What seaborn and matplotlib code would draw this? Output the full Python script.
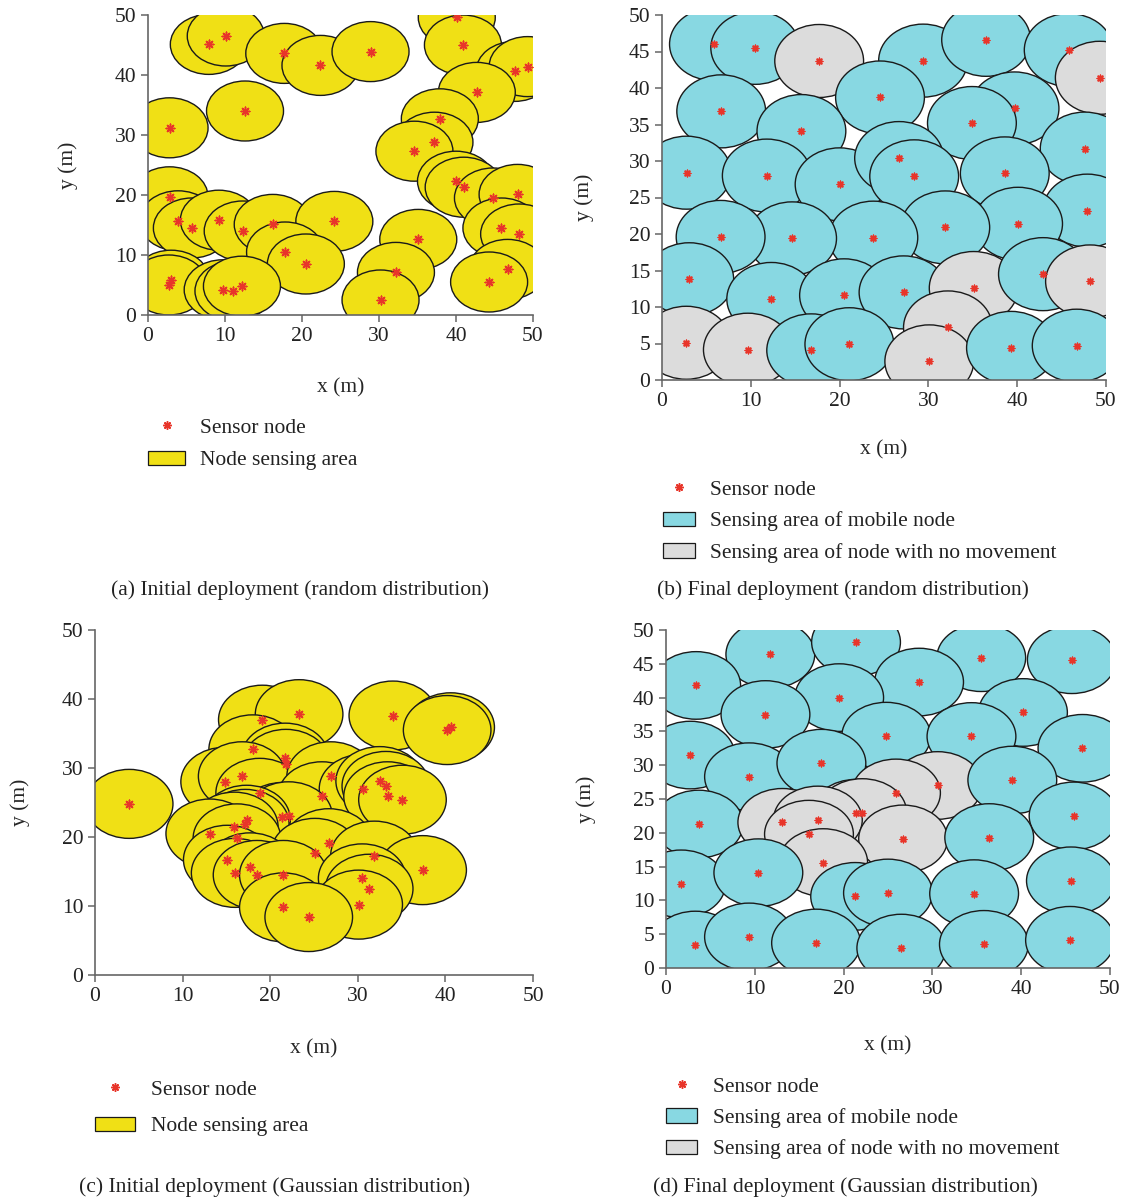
import matplotlib
matplotlib.use("Agg")
import matplotlib.pyplot as plt
from matplotlib.patches import Circle, Patch
from matplotlib.lines import Line2D
import seaborn as sns
import pandas as pd

# ---------------------------------------------------------------
# data (node centres, metres)
# ---------------------------------------------------------------
# (a) initial deployment, random
a_x = [7.9, 10.1, 17.7, 22.4, 28.9, 40.1, 40.9, 47.6, 49.3, 42.7, 12.6, 2.8, 37.9, 37.2,
       34.6, 40.0, 41.0, 44.8, 48.0, 2.8, 3.9, 5.7, 9.2, 12.3, 16.2, 24.2, 17.8, 20.5,
       35.1, 45.9, 48.2, 32.2, 46.7, 44.3, 30.2, 3.0, 2.7, 9.7, 11.1, 12.2]
a_y = [45.1, 46.5, 43.6, 41.6, 43.9, 49.6, 45.0, 40.6, 41.4, 37.1, 34.0, 31.2, 32.7, 28.8,
       27.3, 22.3, 21.3, 19.5, 20.1, 19.7, 15.7, 14.5, 15.8, 14.0, 15.1, 15.6, 10.5, 8.5,
       12.6, 14.5, 13.5, 7.1, 7.6, 5.5, 2.5, 5.8, 5.0, 4.2, 4.0, 4.8]

# (b) final deployment, random  (1 = node moved, 0 = no movement)
b_x = [5.85, 10.5, 17.7, 29.4, 36.5, 45.8, 49.3, 24.55, 6.67, 39.7, 34.9, 15.7, 47.6, 2.77,
       11.8, 20.0, 26.7, 28.4, 38.6, 47.9, 40.1, 31.9, 23.8, 14.65, 6.6, 3.07, 12.3, 20.5,
       27.2, 35.1, 42.9, 48.2, 2.74, 9.67, 16.8, 21.1, 32.2, 30.1, 39.3, 46.7]
b_y = [46.0, 45.5, 43.7, 43.75, 46.6, 45.2, 41.4, 38.7, 36.8, 37.2, 35.2, 34.1, 31.7, 28.4,
       28.0, 26.8, 30.4, 27.9, 28.3, 23.2, 21.4, 20.9, 19.5, 19.4, 19.6, 13.8, 11.1, 11.6,
       12.0, 12.6, 14.5, 13.5, 5.1, 4.15, 4.06, 4.9, 7.2, 2.55, 4.4, 4.7]
b_moved = [1, 1, 0, 1, 1, 1, 0, 1, 1, 1, 1, 1, 1, 1, 1, 1, 1, 1, 1, 1,
           1, 1, 1, 1, 1, 1, 1, 1, 1, 0, 1, 0, 0, 0, 1, 1, 0, 0, 1, 1]

# (c) initial deployment, gaussian
c_x = [3.9, 19.1, 23.3, 34.0, 40.6, 40.2, 18.0, 21.7, 21.8, 14.8, 16.8, 18.8, 26.9, 25.9,
       30.6, 32.5, 33.2, 33.4, 35.1, 21.4, 22.1, 17.3, 17.15, 15.9, 13.1, 16.2, 26.7, 25.1,
       31.9, 37.4, 15.1, 17.7, 16.0, 18.5, 21.5, 30.5, 31.3, 30.1, 21.5, 24.4]
c_y = [24.8, 37.0, 37.8, 37.6, 35.9, 35.5, 32.7, 31.5, 30.6, 28.0, 28.8, 26.4, 28.8, 25.9,
       27.0, 28.1, 27.4, 25.9, 25.4, 22.9, 23.0, 22.5, 21.9, 21.5, 20.5, 19.8, 19.1, 17.7,
       17.3, 15.2, 16.7, 15.6, 14.8, 14.5, 14.5, 14.0, 12.5, 10.2, 9.8, 8.4]

# (d) final deployment, gaussian
d_x = [11.75, 21.4, 35.5, 45.7, 3.4, 28.5, 19.5, 11.2, 40.2, 24.8, 34.4, 46.9, 2.74, 9.35,
       17.5, 30.6, 39.0, 25.9, 3.68, 45.9, 21.4, 22.1, 13.1, 17.1, 16.1, 26.7, 36.4, 17.7,
       1.7, 10.4, 21.3, 25.0, 34.7, 45.6, 3.3, 9.35, 16.9, 26.5, 35.8, 45.5]
d_y = [46.4, 48.2, 45.9, 45.6, 41.8, 42.3, 40.0, 37.5, 37.8, 34.3, 34.25, 32.5, 31.5, 28.3,
       30.3, 27.0, 27.8, 25.9, 21.3, 22.5, 22.9, 23.0, 21.55, 21.9, 19.8, 19.1, 19.3, 15.6,
       12.45, 14.1, 10.6, 11.1, 11.0, 12.9, 3.4, 4.6, 3.7, 2.95, 3.5, 4.1]
d_moved = [1, 1, 1, 1, 1, 1, 1, 1, 1, 1, 1, 1, 1, 1, 1, 0, 1, 0, 1, 1,
           0, 0, 0, 0, 0, 0, 1, 0, 1, 1, 1, 1, 1, 1, 1, 1, 1, 1, 1, 1]

RADIUS = 5
YELLOW = "#f0e015"
CYAN = "#88d8e2"
GRAY = "#dcdcdc"
RED = "#e8352a"
AXC = "#666666"
FS = 15.5

sns.set_theme(style="ticks")
plt.rcParams["font.family"] = ["Liberation Serif", "DejaVu Serif"]
plt.rcParams["text.color"] = "#222222"

W, H = 1124, 1200
fig = plt.figure(figsize=(W / 100, H / 100), dpi=100)


def px_axes(x0, y0, x1, y1):
    return fig.add_axes([x0 / W, 1 - y1 / H, (x1 - x0) / W, (y1 - y0) / H])


def draw_panel(ax, xs, ys, colors, ystep, msize, xpad, ypad):
    for x, y, c in zip(xs, ys, colors):
        ax.add_patch(Circle((x, y), RADIUS, facecolor=c, edgecolor="#1a1a1a", lw=1.0))
    df = pd.DataFrame({"x": xs, "y": ys})
    sns.scatterplot(data=df, x="x", y="y", ax=ax, marker=(8, 2, 0), color=RED,
                    edgecolor=RED, s=msize, linewidth=1.1, zorder=5, legend=False)
    ax.set_xlim(0, 50)
    ax.set_ylim(0, 50)
    ax.set_xticks(range(0, 51, 10))
    ax.set_yticks(range(0, 51, ystep))
    sns.despine(ax=ax)
    for s in ["left", "bottom"]:
        ax.spines[s].set_color(AXC)
        ax.spines[s].set_linewidth(1.2)
    ax.tick_params(direction="out", length=5, width=1.1, color=AXC,
                   labelsize=FS, labelcolor="#222222")
    ax.set_xlabel("x (m)", fontsize=FS, labelpad=xpad)
    ax.set_ylabel("y (m)", fontsize=FS, labelpad=ypad)


def add_legend(handles, labels, x, y, hlen, tpad, lsp):
    fig.legend(handles, labels, loc="upper left", bbox_to_anchor=(x / W, 1 - y / H),
               frameon=False, borderpad=0, borderaxespad=0, handlelength=hlen,
               handleheight=0.65, handletextpad=tpad, labelspacing=lsp, fontsize=FS)


star = Line2D([], [], ls="none", marker=(8, 2, 0), color=RED, markersize=6, mew=1.1)
yel = Patch(facecolor=YELLOW, edgecolor="#1a1a1a", lw=0.9)
cya = Patch(facecolor=CYAN, edgecolor="#1a1a1a", lw=0.9)
gry = Patch(facecolor=GRAY, edgecolor="#1a1a1a", lw=0.9)

# (a)
ax_a = px_axes(148, 15, 533, 315)
draw_panel(ax_a, a_x, a_y, [YELLOW] * len(a_x), 10, 38, 23, 26)
add_legend([star, yel], ["Sensor node", "Node sensing area"], 148, 418, 1.72, 0.7, 0.6)
fig.text(300 / W, 1 - 590 / H, "(a) Initial deployment (random distribution)",
         ha="center", va="center", fontsize=FS)

# (b)
ax_b = px_axes(662, 15, 1106, 380)
draw_panel(ax_b, b_x, b_y, [CYAN if m else GRAY for m in b_moved], 5, 22, 21, 25)
add_legend([star, cya, gry], ["Sensor node", "Sensing area of mobile node",
                              "Sensing area of node with no movement"],
           663, 480, 1.49, 0.7, 0.55)
fig.text(843 / W, 1 - 590 / H, "(b) Final deployment (random distribution)",
         ha="center", va="center", fontsize=FS)

# (c)
ax_c = px_axes(95, 630, 533, 975)
draw_panel(ax_c, c_x, c_y, [YELLOW] * len(c_x), 10, 38, 24, 22.5)
add_legend([star, yel], ["Sensor node", "Node sensing area"], 95, 1080, 1.86, 0.74, 0.78)
fig.text(275 / W, 1 - 1187 / H, "(c) Initial deployment (Gaussian distribution)",
         ha="center", va="center", fontsize=FS)

# (d)
ax_d = px_axes(666, 630, 1110, 968)
draw_panel(ax_d, d_x, d_y, [CYAN if m else GRAY for m in d_moved], 5, 22, 27, 26)
add_legend([star, cya, gry], ["Sensor node", "Sensing area of mobile node",
                              "Sensing area of node with no movement"],
           666, 1077, 1.44, 0.74, 0.53)
fig.text(845 / W, 1 - 1187 / H, "(d) Final deployment (Gaussian distribution)",
         ha="center", va="center", fontsize=FS)

fig.savefig("out.png", dpi=100)
